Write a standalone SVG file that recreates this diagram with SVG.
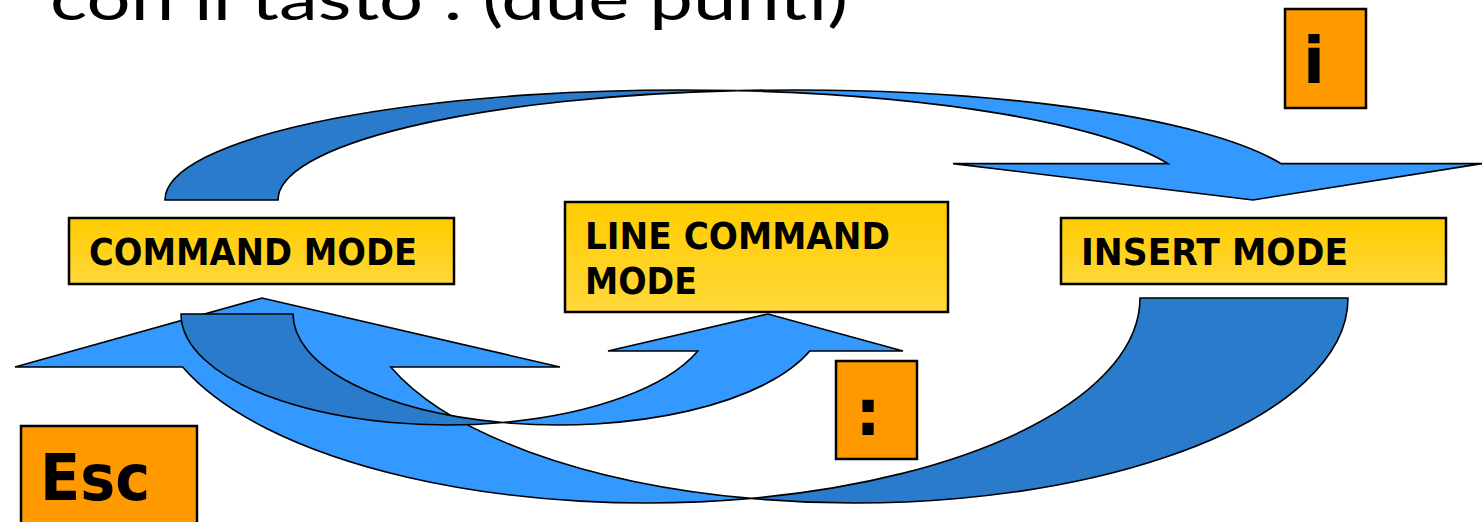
<svg xmlns="http://www.w3.org/2000/svg" width="1482" height="522" viewBox="0 0 1482 522">
  <defs>
    <linearGradient id="modeFill" x1="0" y1="0" x2="0" y2="1">
      <stop offset="0" stop-color="#FFCC00"/>
      <stop offset="1" stop-color="#FFD83A"/>
    </linearGradient>
    <style>
      .back { fill: #2A7BCB; stroke: #000; stroke-width: 1.6; stroke-linejoin: miter; }
      .front { fill: #3399FF; stroke: #000; stroke-width: 1.6; stroke-linejoin: miter; }
      .mode { fill: url(#modeFill); stroke: #000; stroke-width: 2.5; }
      .key { fill: #FF9900; stroke: #000; stroke-width: 2.5; }
      .label { font-family: "DejaVu Sans", Verdana, sans-serif; font-weight: bold; font-size: 38px; fill: #000; }
      .keytext { font-family: "DejaVu Sans", Verdana, sans-serif; font-weight: bold; font-size: 64px; fill: #000; }
      .title { font-family: Lato, "Open Sans", sans-serif; font-size: 60px; fill: #000; }
    </style>
  </defs>

  <text class="title" x="50" y="20" textLength="798" lengthAdjust="spacingAndGlyphs">con il tasto : (due punti)</text>

  <g id="connectors">
    <!-- command mode -> insert mode (curved down arrow over the top) -->
    <g id="arrow-to-insert">
      <path class="back" d="M165,200 A516,110 0 0 1 737.5,90.66 A516,110 0 0 0 278,200 Z"/>
      <path class="front" d="M737.5,90.66 A516,110 0 0 1 1281,163.6 L1482,163.6 L1253,200 L953,163.6 L1168,163.6 A516,110 0 0 0 737.5,90.66 Z"/>
    </g>
    <!-- insert mode -> command mode (large curved up arrow underneath) -->
    <g id="arrow-to-command">
      <path class="back" d="M1348,298 A493,205 0 0 1 751,498.4 A493,205 0 0 0 1140,298 Z"/>
      <path class="front" d="M751,498.4 A493,205 0 0 1 182.7,367 L15,367 L262,298 L560,367 L390.7,367 A493,205 0 0 0 751,498.4 Z"/>
    </g>
    <!-- command mode -> line command mode (small curved up arrow) -->
    <g id="arrow-to-line">
      <path class="back" d="M181,314 A266,111 0 0 0 503,422.5 A266,111 0 0 1 293,314 Z"/>
      <path class="front" d="M503,422.5 A266,111 0 0 0 809.8,351 L903,351 L768,314 L608,351 L697.8,351 A266,111 0 0 1 503,422.5 Z"/>
    </g>
  </g>

  <g id="command-mode">
    <rect class="mode" x="69" y="218" width="385" height="66"/>
    <text class="label" x="89" y="265" textLength="328" lengthAdjust="spacingAndGlyphs">COMMAND MODE</text>
  </g>

  <g id="line-command-mode">
    <rect class="mode" x="565" y="202" width="383" height="110"/>
    <text class="label" x="585" y="249" textLength="305" lengthAdjust="spacingAndGlyphs">LINE COMMAND</text>
    <text class="label" x="585" y="294" textLength="112" lengthAdjust="spacingAndGlyphs">MODE</text>
  </g>

  <g id="insert-mode">
    <rect class="mode" x="1061" y="218" width="385" height="66"/>
    <text class="label" x="1081" y="265" textLength="267" lengthAdjust="spacingAndGlyphs">INSERT MODE</text>
  </g>

  <g id="key-i">
    <rect class="key" x="1285" y="9" width="81" height="99"/>
    <text class="keytext" x="1314" y="83" text-anchor="middle">i</text>
  </g>

  <g id="key-colon">
    <rect class="key" x="836" y="361" width="81" height="98"/>
    <text class="keytext" x="868" y="435" text-anchor="middle">:</text>
  </g>

  <g id="key-esc">
    <rect class="key" x="21" y="426" width="176" height="110"/>
    <text class="keytext" x="40" y="500" textLength="110" lengthAdjust="spacingAndGlyphs">Esc</text>
  </g>
</svg>
